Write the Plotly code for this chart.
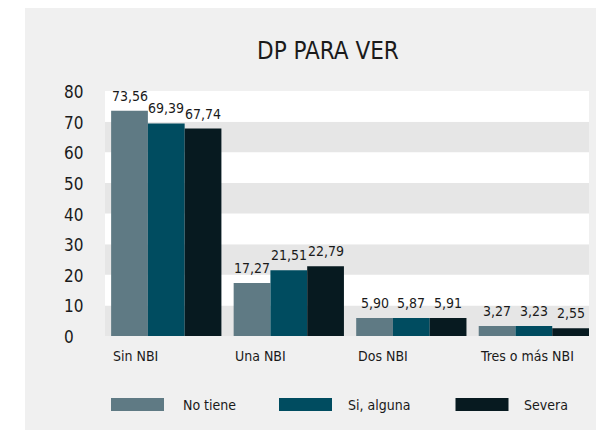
import plotly.graph_objects as go

categories = ["Sin NBI", "Una NBI", "Dos NBI", "Tres o más NBI"]
series_names = ["No tiene", "Si, alguna", "Severa"]
no_tiene = [73.56, 17.27, 5.90, 3.27]
si_alguna = [69.39, 21.51, 5.87, 3.23]
severa = [67.74, 22.79, 5.91, 2.55]
y_ticks = [0, 10, 20, 30, 40, 50, 60, 70, 80]
title_text = "DP PARA VER"

colors = ["#5f7a84", "#004c60", "#071a20"]
FONT = "DejaVu Sans Condensed"
TXT = "#1a1a1a"

OFF = 8  # page body margin
W, H = 604 - OFF, 430 - OFF
L, R, T, B = 97, 15, 83, 94
pw = W - L - R
ph = H - T - B


def px_x(px):  # reference-page pixel -> paper x
    return (px - OFF - L) / pw


def px_y(py):  # reference-page pixel -> paper y
    return (H - B - (py - OFF)) / ph


values = [no_tiene, si_alguna, severa]
xs = list(range(len(categories)))

fig = go.Figure()
for name, vals, col in zip(series_names, values, colors):
    fig.add_trace(go.Bar(x=xs, y=vals, name=name, marker=dict(color=col, line=dict(width=0)),
                         showlegend=False, hoverinfo="skip"))

shapes = []
# white strip left of the gray panel
shapes.append(dict(type="rect", xref="paper", yref="paper", x0=px_x(0), x1=px_x(25),
                   y0=px_y(440), y1=px_y(-5), fillcolor="#ffffff", line=dict(width=0), layer="below"))
# alternating bands
for lo, hi in zip(y_ticks[:-1], y_ticks[1:]):
    fill = "#e6e6e6" if (lo // 10) % 2 == 0 else "#ffffff"
    shapes.append(dict(type="rect", xref="paper", yref="y", x0=0, x1=1, y0=lo, y1=hi,
                       fillcolor=fill, line=dict(width=0), layer="below"))

annotations = []
# y tick labels, left-aligned
for t in y_ticks:
    annotations.append(dict(x=px_x(62), y=t, xref="paper", yref="y", text=str(t), showarrow=False,
                            xanchor="left", yanchor="middle", yshift=-1,
                            font=dict(family=FONT, size=17, color=TXT)))
bw = 0.3
for j, vals in enumerate(values):
    for i, v in enumerate(vals):
        annotations.append(dict(x=i + (j - 1) * bw, y=v, xref="x", yref="y",
                                text=f"{v:.2f}".replace(".", ","), showarrow=False,
                                yanchor="bottom", yshift=5,
                                font=dict(family=FONT, size=14, color=TXT)))
for i, c in enumerate(categories):
    annotations.append(dict(x=i - 0.455, y=px_y(356), xref="x", yref="paper", text=c,
                            showarrow=False, xanchor="left", yanchor="middle",
                            font=dict(family=FONT, size=14, color=TXT)))
# manual legend
sw_x = [111, 279, 455.5]
tx_x = [181, 346, 522]
for k, name in enumerate(series_names):
    shapes.append(dict(type="rect", xref="paper", yref="paper", x0=px_x(sw_x[k]), x1=px_x(sw_x[k] + 53),
                       y0=px_y(411), y1=px_y(398), fillcolor=colors[k], line=dict(width=0)))
    annotations.append(dict(x=px_x(tx_x[k]), y=px_y(405), xref="paper", yref="paper", text=name,
                            showarrow=False, xanchor="left", yanchor="middle",
                            font=dict(family=FONT, size=14, color=TXT)))
# title
annotations.append(dict(x=px_x(327.5), y=px_y(50.5), xref="paper", yref="paper", text=title_text,
                        showarrow=False, xanchor="center", yanchor="middle",
                        font=dict(family=FONT, size=24, color=TXT)))

fig.update_layout(
    width=W, height=H,
    margin=dict(l=L, r=R, t=T, b=B, pad=0),
    paper_bgcolor="#f0f0f0", plot_bgcolor="#ffffff",
    barmode="group", bargap=0.1, bargroupgap=0,
    shapes=shapes, annotations=annotations,
    font=dict(family=FONT, color=TXT),
    xaxis=dict(range=[-0.5, 3.45], showticklabels=False, showgrid=False, zeroline=False,
               showline=False, fixedrange=True),
    yaxis=dict(range=[0, 80], tickvals=y_ticks, showticklabels=False, showgrid=False,
               zeroline=False, showline=False, fixedrange=True),
)

fig.write_html("out.html")
